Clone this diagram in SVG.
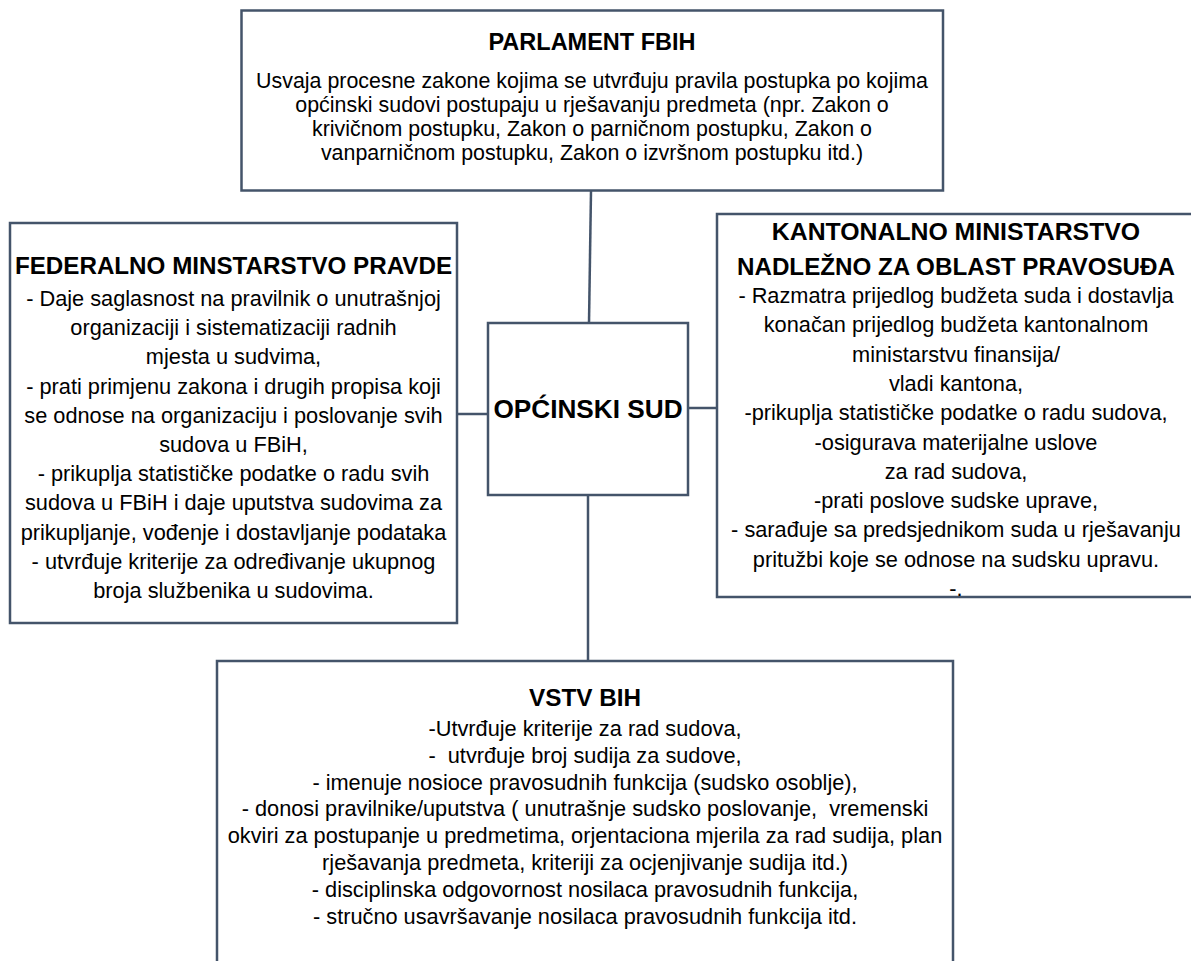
<svg xmlns="http://www.w3.org/2000/svg" width="1191" height="961" viewBox="0 0 1191 961">
<style>
.box{fill:#fff;stroke:#44546a;stroke-width:2.5}
.conn line{stroke:#44546a;stroke-width:2.5}
text{font-family:"Liberation Sans",Arial,sans-serif;fill:#000;text-anchor:middle}
.t{font-weight:bold;font-size:24.2px}
.b{font-size:21.75px}
.bt{font-size:21.4px}
</style>
<rect width="1191" height="961" fill="#fff"/>
<g id="connectors" class="conn">
<line x1="591" y1="191" x2="589" y2="323"/>
<line x1="457" y1="414" x2="488" y2="414"/>
<line x1="688" y1="408" x2="717" y2="408"/>
<line x1="588" y1="495" x2="588" y2="661"/>
</g>
<g id="parlament">
<rect class="box" x="241.5" y="10.5" width="701.5" height="180"/>
<text class="t" x="592" y="50" style="font-size:23.5px">PARLAMENT FBIH</text>
<text class="bt"><tspan x="592" y="88">Usvaja procesne zakone kojima se utvrđuju pravila postupka po kojima</tspan><tspan x="592" y="112">općinski sudovi postupaju u rješavanju predmeta (npr. Zakon o</tspan><tspan x="592" y="136">krivičnom postupku, Zakon o parničnom postupku, Zakon o</tspan><tspan x="592" y="160">vanparničnom postupku, Zakon o izvršnom postupku itd.)</tspan></text>
</g>
<g id="federalno">
<rect class="box" x="10" y="223" width="447" height="400"/>
<text class="t" x="233.5" y="274">FEDERALNO MINSTARSTVO PRAVDE</text>
<text class="b"><tspan x="233.5" y="306">- Daje saglasnost na pravilnik o unutrašnjoj</tspan><tspan x="233.5" y="335.2">organizaciji i sistematizaciji radnih</tspan><tspan x="233.5" y="364.4">mjesta u sudvima,</tspan><tspan x="233.5" y="393.6">- prati primjenu zakona i drugih propisa koji</tspan><tspan x="233.5" y="422.8">se odnose na organizaciju i poslovanje svih</tspan><tspan x="233.5" y="452">sudova u FBiH,</tspan><tspan x="233.5" y="481.2">- prikuplja statističke podatke o radu svih</tspan><tspan x="233.5" y="510.4">sudova u FBiH i daje uputstva sudovima za</tspan><tspan x="233.5" y="539.6">prikupljanje, vođenje i dostavljanje podataka</tspan><tspan x="233.5" y="568.8">- utvrđuje kriterije za određivanje ukupnog</tspan><tspan x="233.5" y="598">broja službenika u sudovima.</tspan></text>
</g>
<g id="kantonalno">
<rect class="box" x="717" y="214" width="480" height="383"/>
<text class="t"><tspan x="956" y="240" style="font-size:24.8px">KANTONALNO MINISTARSTVO</tspan><tspan x="956" y="275">NADLEŽNO ZA OBLAST PRAVOSUĐA</tspan></text>
<text class="b"><tspan x="956" y="303">- Razmatra prijedlog budžeta suda i dostavlja</tspan><tspan x="956" y="332.3">konačan prijedlog budžeta kantonalnom</tspan><tspan x="956" y="361.6">ministarstvu finansija/</tspan><tspan x="956" y="390.9">vladi kantona,</tspan><tspan x="956" y="420.2">-prikuplja statističke podatke o radu sudova,</tspan><tspan x="956" y="449.5">-osigurava materijalne uslove</tspan><tspan x="956" y="478.8">za rad sudova,</tspan><tspan x="956" y="508.1">-prati poslove sudske uprave,</tspan><tspan x="956" y="537.4">- sarađuje sa predsjednikom suda u rješavanju</tspan><tspan x="956" y="566.7">pritužbi koje se odnose na sudsku upravu.</tspan><tspan x="956" y="596">-.</tspan></text>
</g>
<g id="opcinski">
<rect class="box" x="488" y="323" width="200" height="172"/>
<text class="t" x="588" y="418" style="font-size:26.2px">OPĆINSKI SUD</text>
</g>
<g id="vstv">
<rect class="box" x="217" y="661" width="736" height="320"/>
<text class="t" x="585" y="706" style="font-size:24.3px">VSTV BIH</text>
<text class="b"><tspan x="585" y="736">-Utvrđuje kriterije za rad sudova,</tspan><tspan x="585" y="762.8">-&#160; utvrđuje broj sudija za sudove,</tspan><tspan x="585" y="789.6">- imenuje nosioce pravosudnih funkcija (sudsko osoblje),</tspan><tspan x="585" y="816.4">- donosi pravilnike/uputstva ( unutrašnje sudsko poslovanje,&#160; vremenski</tspan><tspan x="585" y="843.2">okviri za postupanje u predmetima, orjentaciona mjerila za rad sudija, plan</tspan><tspan x="585" y="870">rješavanja predmeta, kriteriji za ocjenjivanje sudija itd.)</tspan><tspan x="585" y="896.8">- disciplinska odgovornost nosilaca pravosudnih funkcija,</tspan><tspan x="585" y="923.6">- stručno usavršavanje nosilaca pravosudnih funkcija itd.</tspan></text>
</g>
</svg>
